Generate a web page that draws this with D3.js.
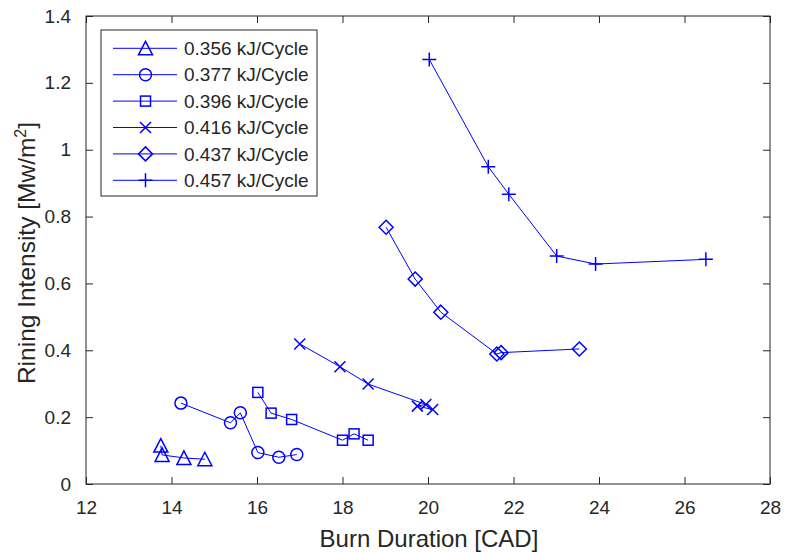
<!DOCTYPE html>
<html>
<head>
<meta charset="utf-8">
<script src="https://cdn.jsdelivr.net/npm/d3@7"></script>
<style>
  html, body { margin: 0; padding: 0; background: #fff; }
  svg { display: block; }
  text { font-family: "Liberation Sans", Arial, Helvetica, sans-serif; fill: #262626; }
</style>
</head>
<body>
<svg id="chart" width="785" height="552"></svg>
<script>
// ---- Data ----
const seriesNames = ["0.356 kJ/Cycle", "0.377 kJ/Cycle", "0.396 kJ/Cycle", "0.416 kJ/Cycle", "0.437 kJ/Cycle", "0.457 kJ/Cycle"];
const markers = ["triangle", "circle", "square", "x", "diamond", "plus"];

const s356x = [13.75, 13.78, 14.29, 14.78];
const s356y = [0.115, 0.087, 0.078, 0.074];

const s377x = [14.22, 15.38, 15.61, 16.02, 16.51, 16.93];
const s377y = [0.242, 0.183, 0.213, 0.094, 0.080, 0.088];

const s396x = [16.02, 16.33, 16.81, 18.00, 18.27, 18.60];
const s396y = [0.274, 0.212, 0.193, 0.131, 0.150, 0.131];

const s416x = [17.00, 17.94, 18.60, 19.95, 19.75, 20.11];
const s416y = [0.419, 0.351, 0.299, 0.238, 0.233, 0.223];

const s437x = [19.02, 19.70, 20.30, 21.61, 21.71, 23.54];
const s437y = [0.768, 0.613, 0.514, 0.389, 0.393, 0.404];

const s457x = [20.03, 21.41, 21.89, 23.01, 23.92, 26.50];
const s457y = [1.270, 0.949, 0.867, 0.682, 0.658, 0.672];

const xTicks = [12, 14, 16, 18, 20, 22, 24, 26, 28];
const yTicks = [0, 0.2, 0.4, 0.6, 0.8, 1, 1.2, 1.4];
const xLabel = "Burn Duration [CAD]";

const seriesX = [s356x, s377x, s396x, s416x, s437x, s457x];
const seriesY = [s356y, s377y, s396y, s416y, s437y, s457y];

// ---- Layout ----
const L = 86, R = 770, T = 16, B = 484;
const blue = "#0000ff";
const axisColor = "#262626";

const svg = d3.select("#chart");
const x = d3.scaleLinear().domain([12, 28]).range([L, R]);
const y = d3.scaleLinear().domain([0, 1.4]).range([B, T]);

const tickLen = 7;

const fmt = d => (d === 0 ? "0" : d3.format("~g")(d));
const gx = svg.append("g").attr("transform", `translate(0,${B})`)
  .call(d3.axisBottom(x).tickValues(xTicks).tickSizeInner(-tickLen).tickSizeOuter(0).tickPadding(tickLen + 10).tickFormat(fmt));
const gxTop = svg.append("g").attr("transform", `translate(0,${T})`)
  .call(d3.axisTop(x).tickValues(xTicks).tickSizeInner(-tickLen).tickSizeOuter(0).tickFormat(""));
const gy = svg.append("g").attr("transform", `translate(${L},0)`)
  .call(d3.axisLeft(y).tickValues(yTicks).tickSizeInner(-tickLen).tickSizeOuter(0).tickPadding(tickLen + 8).tickFormat(fmt));
const gyRight = svg.append("g").attr("transform", `translate(${R},0)`)
  .call(d3.axisRight(y).tickValues(yTicks).tickSizeInner(-tickLen).tickSizeOuter(0).tickFormat(""));

[gx, gxTop, gy, gyRight].forEach(g => {
  g.select(".domain").remove();
  g.selectAll(".tick line").attr("stroke", axisColor).attr("stroke-width", 1);
  g.selectAll(".tick text").attr("fill", axisColor).style("font-size", "19px")
    .style("font-family", "'Liberation Sans', Arial, sans-serif");
});

// Box
svg.append("rect").attr("x", L).attr("y", T).attr("width", R - L).attr("height", B - T)
  .attr("fill", "none").attr("stroke", axisColor).attr("stroke-width", 1);

// Labels
svg.append("text").attr("x", 429).attr("y", 547).attr("text-anchor", "middle")
  .style("font-size", "24px").text(xLabel);

const yl = svg.append("text").attr("transform", `translate(35,${(T + B) / 2 + 3}) rotate(-90)`)
  .attr("text-anchor", "middle").style("font-size", "24.5px");
yl.append("tspan").text("Rining Intensity [Mw/m");
yl.append("tspan").attr("dy", -9).style("font-size", "16px").text("2");
yl.append("tspan").attr("dy", 9).text("]");

// Marker drawing
function drawMarker(g, type, cx, cy) {
  const sw = 1.5;
  if (type === "triangle") {
    const w = 7, h = 6.5;
    g.append("path").attr("d", `M${cx},${cy - h - 0.5}L${cx + w},${cy + h}L${cx - w},${cy + h}Z`)
      .attr("fill", "none").attr("stroke", blue).attr("stroke-width", sw);
  } else if (type === "circle") {
    g.append("circle").attr("cx", cx).attr("cy", cy).attr("r", 6)
      .attr("fill", "none").attr("stroke", blue).attr("stroke-width", sw);
  } else if (type === "square") {
    const s = 5;
    g.append("rect").attr("x", cx - s).attr("y", cy - s).attr("width", 2 * s).attr("height", 2 * s)
      .attr("fill", "none").attr("stroke", blue).attr("stroke-width", sw);
  } else if (type === "x") {
    const s = 5.5;
    g.append("path").attr("d", `M${cx - s},${cy - s}L${cx + s},${cy + s}M${cx - s},${cy + s}L${cx + s},${cy - s}`)
      .attr("stroke", blue).attr("stroke-width", sw);
  } else if (type === "diamond") {
    const s = 7;
    g.append("path").attr("d", `M${cx},${cy - s}L${cx + s},${cy}L${cx},${cy + s}L${cx - s},${cy}Z`)
      .attr("fill", "none").attr("stroke", blue).attr("stroke-width", sw);
  } else if (type === "plus") {
    const s = 7;
    g.append("path").attr("d", `M${cx - s},${cy}L${cx + s},${cy}M${cx},${cy - s}L${cx},${cy + s}`)
      .attr("stroke", blue).attr("stroke-width", sw);
  }
}

// Series
const line = d3.line().x(d => x(d[0])).y(d => y(d[1]));
seriesX.forEach((xs, i) => {
  const pts = xs.map((v, j) => [v, seriesY[i][j]]);
  const g = svg.append("g");
  g.append("path").attr("d", line(pts)).attr("fill", "none").attr("stroke", blue).attr("stroke-width", 1);
  pts.forEach(p => drawMarker(g, markers[i], x(p[0]), y(p[1])));
});

// Legend
const lg = svg.append("g");
const lx = 101, ly = 30, lw = 216, lh = 166;
lg.append("rect").attr("x", lx).attr("y", ly).attr("width", lw).attr("height", lh)
  .attr("fill", "#fff").attr("stroke", axisColor).attr("stroke-width", 1);
seriesNames.forEach((name, i) => {
  const ry = 48.3 + i * 26.4;
  lg.append("line").attr("x1", 113).attr("x2", 177).attr("y1", ry).attr("y2", ry)
    .attr("stroke", blue).attr("stroke-width", 1);
  drawMarker(lg, markers[i], 145.5, ry);
  lg.append("text").attr("x", 184).attr("y", ry).attr("dy", "0.35em")
    .style("font-size", "19px").text(name);
});
</script>
</body>
</html>
